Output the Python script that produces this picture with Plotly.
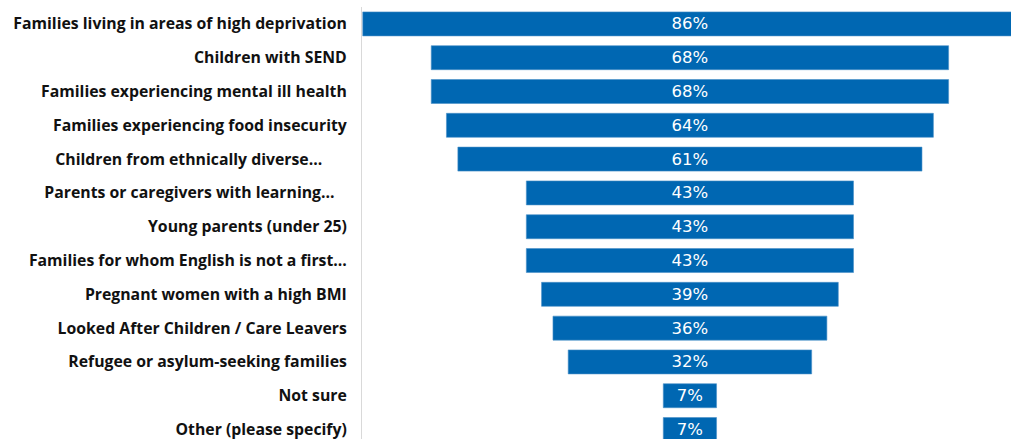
import plotly.graph_objects as go

categories = [
    "Families living in areas of high deprivation",
    "Children with SEND",
    "Families experiencing mental ill health",
    "Families experiencing food insecurity",
    "Children from ethnically diverse…\u00a0\u00a0\u00a0\u00a0\u00a0\u00a0",
    "Parents or caregivers with learning…\u00a0\u00a0\u00a0",
    "Young parents (under 25)",
    "Families for whom English is not a first…",
    "Pregnant women with a high BMI",
    "Looked After Children / Care Leavers",
    "Refugee or asylum-seeking families",
    "Not sure",
    "Other (please specify)",
]
values = [86, 68, 68, 64, 61, 43, 43, 43, 39, 36, 32, 7, 7]
labels = [f"{v}%" for v in values]

# centred bars: each bar starts half its length left of zero
bases = [-v / 2 for v in values]

fig = go.Figure(
    go.Bar(
        y=categories,
        x=values,
        base=bases,
        orientation="h",
        marker=dict(color="#0067B2", line=dict(color="#4A90C8", width=0.6)),
        text=labels,
        textposition="inside",
        insidetextanchor="middle",
        textangle=0,
        textfont=dict(family="DejaVu Sans", size=16.5, color="white"),
        cliponaxis=True,
        hoverinfo="skip",
    )
)

fig.update_layout(
    width=1011,
    height=439,
    margin=dict(l=362, r=0, t=7, b=0),
    paper_bgcolor="white",
    plot_bgcolor="white",
    bargap=0.29,
    showlegend=False,
    uniformtext=dict(mode="show", minsize=16),
    xaxis=dict(
        range=[-43.1, 42.2],
        visible=False,
        fixedrange=True,
    ),
    yaxis=dict(
        type="category",
        range=[12.28, -0.5],
        showline=True,
        linecolor="#D9D9D9",
        linewidth=1,
        ticks="",
        showgrid=False,
        ticklabelstandoff=11,
        tickfont=dict(family="Open Sans", size=15.8, color="#111111", weight="bold"),
    ),
)

fig.write_html("out.html")
